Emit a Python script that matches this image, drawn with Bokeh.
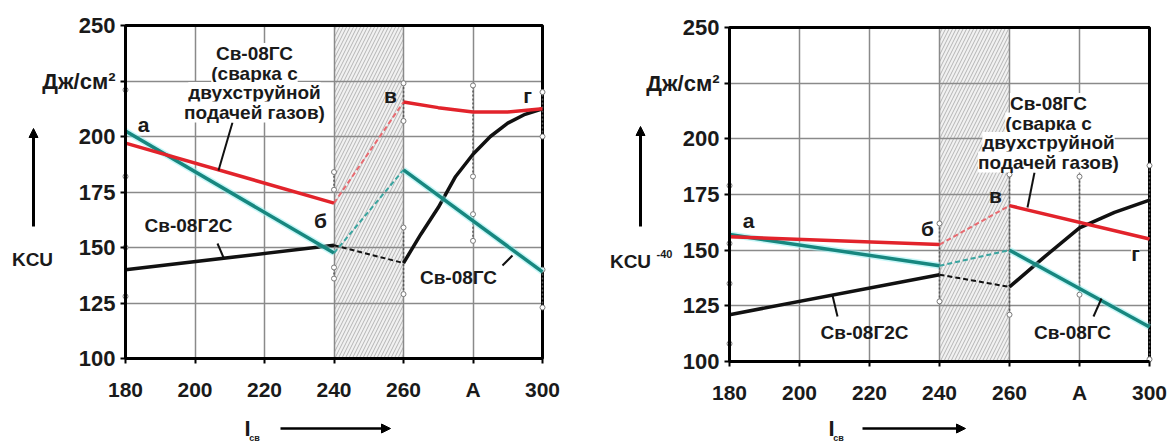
from bokeh.plotting import figure
from bokeh.layouts import row
from bokeh.models import Label, Arrow, NormalHead, FixedTicker, Range1d
from bokeh.embed import file_html
from bokeh.resources import INLINE

# ---------------- data ----------------
x_ticks = [180, 200, 220, 240, 260, 280, 300]
x_tick_labels = ["180", "200", "220", "240", "260", "A", "300"]
y_ticks = [100, 125, 150, 175, 200, 225, 250]
y_tick_labels = ["100", "125", "150", "175", "200", "Дж/см²", "250"]
x_min, x_max = 180, 300
y_min, y_max = 100, 250

shade_x0 = 240
shade_x1 = 260

# left panel: KCU
left_red_x = [180, 240, 260, 270, 280, 290, 300]
left_red_y = [197, 170, 215.5, 213, 211, 211, 212.5]
left_teal_x = [180, 240, 260, 300]
left_teal_y = [202.5, 147.5, 185, 139]
left_black_x = [180, 240, 260, 265, 270, 275, 280, 285, 290, 295, 300]
left_black_y = [140, 151, 143, 156, 168, 182, 192, 200, 206, 210, 212.5]
# measured scatter bands (x, low, high)
left_band_x = [180, 180, 240, 240, 260, 260, 280, 280, 300, 300]
left_band_lo = [182, 128, 176, 136, 207, 129, 182, 153, 200, 123]
left_band_hi = [221, 150, 184, 141, 224, 159, 223, 165, 220, 140]

# right panel: KCU-40
right_red_x = [180, 240, 260, 300]
right_red_y = [156, 152.5, 170, 155]
right_teal_x = [180, 240, 260, 300]
right_teal_y = [157, 143, 150, 115.5]
right_black_x = [180, 240, 260, 270, 280, 290, 300]
right_black_y = [121, 139, 133.5, 147, 160, 167, 172.5]
right_band_x = [180, 180, 240, 260, 280, 300]
right_band_lo = [153, 108, 127, 121, 130, 101]
right_band_hi = [179, 135, 162, 184, 183, 188]

RED = "#e2232b"
RED_D = "#e86a70"
TEAL = "#17877f"
TEAL_D = "#3aa5a0"
HALO = "#8ff0f2"
BLACK = "#111111"
FONT = "Liberation Sans"
H = 445


def split(xs, ys):
    pre = [(x, y) for x, y in zip(xs, ys) if x <= shade_x0]
    gap = [(x, y) for x, y in zip(xs, ys) if shade_x0 <= x <= shade_x1]
    post = [(x, y) for x, y in zip(xs, ys) if x >= shade_x1]
    unz = lambda pts: ([a for a, b in pts], [b for a, b in pts])
    return unz(pre), unz(gap), unz(post)


def make_fig(width, box):
    # box = (left_px, right_px, top_px, bottom_px) of the plot box inside the canvas
    bl, br, bt, bb = box
    sx = (x_max - x_min) / (br - bl)
    sy = (y_max - y_min) / (bb - bt)
    xr = Range1d(x_min - bl * sx, x_max + (width - br) * sx)
    yr = Range1d(y_min - (H - bb) * sy, y_max + bt * sy)
    p = figure(width=width, height=H, x_range=xr, y_range=yr,
               output_backend="svg", toolbar_location=None,
               min_border_left=0, min_border_right=0, min_border_top=0, min_border_bottom=0)
    p.outline_line_color = None
    p.xaxis.ticker = FixedTicker(ticks=x_ticks)
    p.yaxis.ticker = FixedTicker(ticks=y_ticks)
    p.xaxis.major_label_overrides = {t: l for t, l in zip(x_ticks, x_tick_labels)}
    p.yaxis.major_label_overrides = {t: l for t, l in zip(y_ticks, y_tick_labels)}
    p.xaxis.fixed_location = y_min
    p.yaxis.fixed_location = x_min
    p.xaxis.bounds = (x_min, x_max)
    p.yaxis.bounds = (y_min, y_max)
    for ax in (p.xaxis, p.yaxis):
        ax.axis_line_width = 3
        ax.axis_line_color = "black"
        ax.major_tick_in = 0
        ax.major_tick_out = 5
        ax.major_tick_line_width = 2
        ax.minor_tick_line_color = None
        ax.major_label_text_font = FONT
        ax.major_label_text_font_style = "bold"
        ax.major_label_text_font_size = "22px"
        ax.major_label_text_color = "#1a1a1a"
    p.xaxis.major_label_text_font_size = "21px"
    p.xaxis.major_label_standoff = 14
    p.yaxis.major_label_standoff = 5
    p.grid.grid_line_color = "#8a8a8a"
    p.grid.grid_line_width = 1.5
    p.xgrid.ticker = FixedTicker(ticks=x_ticks)
    p.ygrid.ticker = FixedTicker(ticks=y_ticks)
    p.xgrid.bounds = (x_min, x_max)
    p.xgrid.cross_bounds = (y_min, y_max)
    p.ygrid.bounds = (y_min, y_max)
    p.ygrid.cross_bounds = (x_min, x_max)
    # shaded band
    p.quad(left=[shade_x0], right=[shade_x1], bottom=[y_min], top=[y_max],
           fill_color="#f1f1f1", fill_alpha=1, line_color=None,
           hatch_pattern="/", hatch_color="#b4b4b4", hatch_scale=7, hatch_weight=1, level="image")
    # plot box frame
    p.quad(left=[x_min], right=[x_max], bottom=[y_min], top=[y_max],
           fill_color=None, line_color="black", line_width=3)
    conv = lambda px, py: (x_min + (px - bl) * sx, y_max - (py - bt) * sy)
    return p, conv


def draw_series(p, bx, blo, bhi, series):
    p.segment(x0=bx, y0=blo, x1=bx, y1=bhi, line_color="#5a5a5a", line_width=1.5, line_dash="2 2")
    p.scatter(bx + bx, blo + bhi, marker="circle", size=5, fill_color="white", line_color="#7a7a7a")
    for xs, ys, col, dcol, halo in series:
        pre, gap, post = split(xs, ys)
        p.line(gap[0], gap[1], line_color=dcol, line_width=2, line_dash="5 3")
        for seg in (pre, post):
            if halo:
                p.line(seg[0], seg[1], line_color=HALO, line_width=6.5, line_alpha=0.5)
            p.line(seg[0], seg[1], line_color=col, line_width=3.5)


def add_label(p, conv, px, py, text, size="19px", bg=False, align="center"):
    x, y = conv(px, py)
    p.add_layout(Label(x=x, y=y, text=text, text_font=FONT, text_font_style="bold",
                       text_font_size=size, text_align=align, text_baseline="middle",
                       text_color="#1a1a1a",
                       background_fill_color="white" if bg else None))


def leader(p, conv, a, b):
    x0, y0 = conv(*a)
    x1, y1 = conv(*b)
    p.segment(x0=[x0], y0=[y0], x1=[x1], y1=[y1], line_color=BLACK, line_width=2)


def arrow(p, conv, a, b, w=2.5):
    x0, y0 = conv(*a)
    x1, y1 = conv(*b)
    p.add_layout(Arrow(end=NormalHead(size=9, fill_color="black", line_color="black"),
                       x_start=x0, y_start=y0, x_end=x1, y_end=y1, line_width=w, line_color="black"))


# ---------------- left panel (canvas at page x 0..572) ----------------
LEFT_W = 572
p1, c1 = make_fig(LEFT_W, (125, 542, 25, 358))
conv1 = lambda px, py: c1(px, py)
draw_series(p1, left_band_x, left_band_lo, left_band_hi, [
    (left_black_x, left_black_y, BLACK, BLACK, False),
    (left_teal_x, left_teal_y, TEAL, TEAL_D, True),
    (left_red_x, left_red_y, RED, RED_D, False),
])
for i, t in enumerate(["Св-08ГС", "(сварка с", "двухструйной", "подачей газов)"]):
    add_label(p1, conv1, 254, 53 + i * 19.5, t, bg=True)
leader(p1, conv1, (232, 122), (218, 170))
add_label(p1, conv1, 143, 124, "а", size="21px")
add_label(p1, conv1, 320, 220, "б", size="21px")
add_label(p1, conv1, 390, 95, "в", size="21px")
add_label(p1, conv1, 527, 95, "г", size="21px")
add_label(p1, conv1, 188, 225, "Св-08Г2С")
leader(p1, conv1, (217, 243), (223, 257))
add_label(p1, conv1, 458, 277, "Св-08ГС")
leader(p1, conv1, (502, 265), (512, 255))
add_label(p1, conv1, 32, 259, "KCU", size="19px")
arrow(p1, conv1, (33, 226), (33, 128), w=3)
add_label(p1, conv1, 247, 428, "I", size="22px")
add_label(p1, conv1, 254, 437, "св", size="9px")
arrow(p1, conv1, (280, 428), (390, 428))

# ---------------- right panel (canvas at page x 572..1170) ----------------
RIGHT_W = 1170 - LEFT_W
p2, c2 = make_fig(RIGHT_W, (729 - LEFT_W, 1149 - LEFT_W, 27, 361))
conv2 = lambda px, py: c2(px - LEFT_W, py)
draw_series(p2, right_band_x, right_band_lo, right_band_hi, [
    (right_black_x, right_black_y, BLACK, BLACK, False),
    (right_teal_x, right_teal_y, TEAL, TEAL_D, True),
    (right_red_x, right_red_y, RED, RED_D, False),
])
for i, t in enumerate(["Св-08ГС", "(сварка с", "двухструйной", "подачей газов)"]):
    add_label(p2, conv2, 1048, 103 + i * 19.5, t, bg=True)
leader(p2, conv2, (1034, 172), (1027, 207))
add_label(p2, conv2, 748, 220, "а", size="21px")
add_label(p2, conv2, 927, 228, "б", size="21px")
add_label(p2, conv2, 995, 195, "в", size="21px")
add_label(p2, conv2, 1135, 253, "г", size="21px", bg=True)
add_label(p2, conv2, 864, 332, "Св-08Г2С")
leader(p2, conv2, (837, 316), (832, 295))
add_label(p2, conv2, 1072, 332, "Св-08ГС")
leader(p2, conv2, (1093, 316), (1101, 298))
add_label(p2, conv2, 630, 261, "KCU", size="19px")
add_label(p2, conv2, 664, 253, "-40", size="11px")
arrow(p2, conv2, (640, 226), (640, 126), w=3)
add_label(p2, conv2, 831, 428, "I", size="22px")
add_label(p2, conv2, 838, 437, "св", size="9px")
arrow(p2, conv2, (862, 428), (965, 428))

layout = row(p1, p2)
open("out.html", "w").write(file_html(layout, INLINE))
